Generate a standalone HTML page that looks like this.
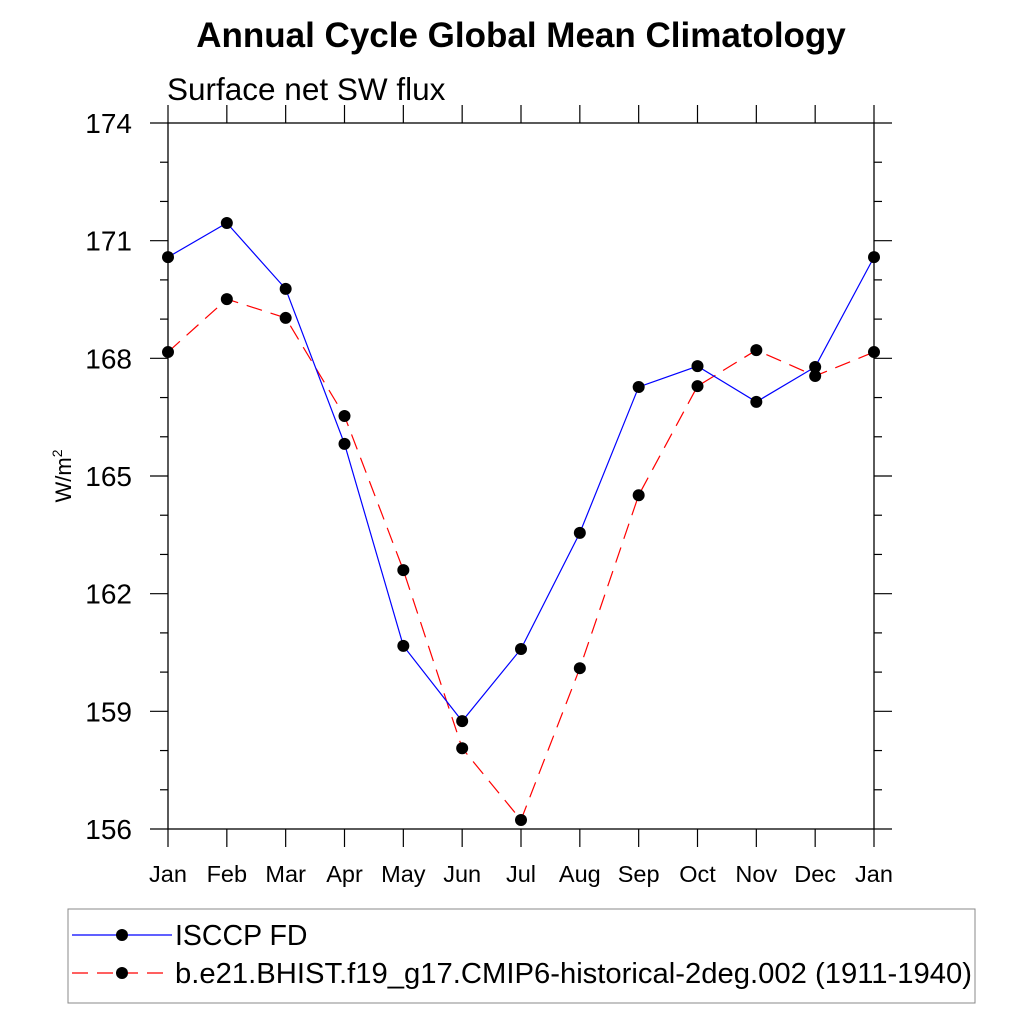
<!DOCTYPE html>
<html><head><meta charset="utf-8"><style>
body{margin:0;background:#fff;}
svg{display:block;font-family:"Liberation Sans",Arial,sans-serif;}
</style></head><body>
<svg id="chart" width="1024" height="1024" viewBox="0 0 1024 1024">
<text x="521" y="47" text-anchor="middle" font-size="35" font-weight="bold">Annual Cycle Global Mean Climatology</text>
<text x="167" y="100" font-size="31.5">Surface net SW flux</text>
<text transform="translate(71,476) rotate(-90)" text-anchor="middle" font-size="22">W/m<tspan dy="-9" font-size="14">2</tspan></text>
<rect x="168" y="123" width="706" height="706" fill="none" stroke="#000" stroke-width="1.3"/>
<g id="axes"></g>
<g id="series"></g>
<rect x="68" y="909" width="907" height="94" fill="none" stroke="#888" stroke-width="1"/>
<g>
<line x1="72" y1="935" x2="172" y2="935" stroke="#0000ff" stroke-width="1.2"/>
<circle cx="122" cy="935" r="6" fill="#000"/>
<text x="175" y="945" font-size="28.5">ISCCP FD</text>
</g>
<g>
<line x1="72" y1="973" x2="172" y2="973" stroke="#ff0000" stroke-width="1.2" stroke-dasharray="16,9"/>
<circle cx="122" cy="973" r="6" fill="#000"/>
<text x="175" y="983" font-size="28.5" textLength="797" lengthAdjust="spacingAndGlyphs">b.e21.BHIST.f19_g17.CMIP6-historical-2deg.002 (1911-1940)</text>
</g>
</svg>
<script>
const months=["Jan","Feb","Mar","Apr","May","Jun","Jul","Aug","Sep","Oct","Nov","Dec","Jan"];
const isccp=[170.58,171.45,169.77,165.82,160.67,158.75,160.59,163.55,167.27,167.80,166.89,167.78,170.58];
const model=[168.16,169.51,169.03,166.53,162.60,158.06,156.23,160.10,164.51,167.29,168.21,167.55,168.16];
const yTicks=[156,159,162,165,168,171,174];
const NS="http://www.w3.org/2000/svg";
const L=168,R=874,T=123,B=829,ymin=156,ymax=174;
const xs=i=>L+(R-L)*i/(months.length-1);
const ys=v=>B-(B-T)*(v-ymin)/(ymax-ymin);
function mk(tag,attrs,parent){const e=document.createElementNS(NS,tag);for(const k in attrs)e.setAttribute(k,attrs[k]);parent.appendChild(e);return e;}
const ax=document.getElementById('axes');
months.forEach((m,i)=>{
  const x=xs(i);
  const t1=mk('line',{x1:x,y1:B,x2:x,y2:B+18,stroke:'#000','stroke-width':1.2},ax);
  
  
  const t2=mk('line',{x1:x,y1:T,x2:x,y2:T-18,stroke:'#000','stroke-width':1.2},ax);
  
  
  const tx=mk('text',{x:x,y:882,'text-anchor':'middle','font-size':23.5},ax);
  tx.textContent=m;
  
  
});
for(let v=ymin;v<=ymax+0.001;v+=1){
  const y=ys(v);const major=Math.abs(v%3)<0.01;const len=major?18:8;
  const a=mk('line',{x1:L,y1:y,x2:L-len,y2:y,stroke:'#000','stroke-width':1.2},ax);
  
  
  const b=mk('line',{x1:R,y1:y,x2:R+len,y2:y,stroke:'#000','stroke-width':1.2},ax);
  
  
}
yTicks.forEach(v=>{
  const t=mk('text',{x:132,y:ys(v)+10,'text-anchor':'end','font-size':28},ax);
  t.textContent=v;
  
  
});
const sg=document.getElementById('series');
function draw(data,color,dash,name){
  const g=mk('g',{},sg);
  
  
  const p=mk('polyline',{points:data.map((v,i)=>xs(i)+','+ys(v)).join(' '),fill:'none',stroke:color,'stroke-width':1.2,'stroke-dasharray':dash},g);
  
  
  data.forEach((v,i)=>{
    const c=mk('circle',{cx:xs(i),cy:ys(v),r:6,fill:'#000'},g);
    
    
  });
}
draw(model,'#ff0000','16,9','series-model');
draw(isccp,'#0000ff','none','series-isccp');
</script>
</body></html>
